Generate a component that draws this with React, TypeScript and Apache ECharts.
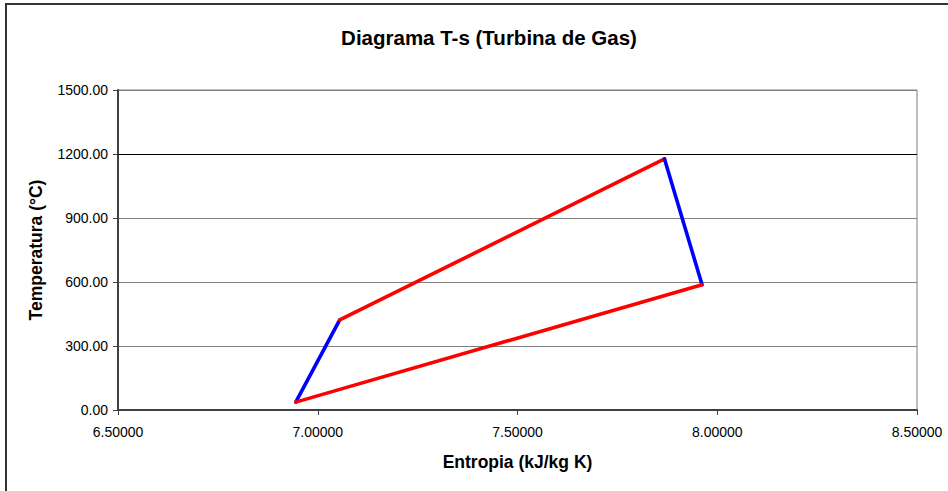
import React, { useEffect, useRef } from "react";
import * as echarts from "echarts";

// Cycle state points (Brayton cycle)
const entropy = [6.945, 7.055, 7.868, 7.962]; // kJ/kg K
const temperature = [37, 422, 1177, 587]; // °C
const segmentNames = ["Compresión", "Combustión", "Expansión", "Escape"];
const segmentColors = ["#0000FF", "#FF0000", "#0000FF", "#FF0000"];
const xTicks = [6.5, 7.0, 7.5, 8.0, 8.5];
const yTicks = [0, 300, 600, 900, 1200, 1500];

const FONT = "'Liberation Sans', Arial, sans-serif";

export default function App() {
  const ref = useRef<HTMLDivElement>(null);
  useEffect(() => {
    if (!ref.current) return;
    const chart = echarts.init(ref.current, undefined, { renderer: "svg" });
    const n = entropy.length;
    const series = segmentNames.map((name, i) => {
      const a = i;
      const b = (i + 1) % n;
      return {
        name,
        type: "line",
        data: [
          [entropy[a], temperature[a]],
          [entropy[b], temperature[b]],
        ],
        showSymbol: false,
        symbol: "none",
        lineStyle: { color: segmentColors[i], width: 3.6, cap: "round" },
        itemStyle: { color: segmentColors[i] },
        z: 3 + i,
        ...(i === 0
          ? {
              markLine: {
                silent: true,
                symbol: "none",
                label: { show: false },
                lineStyle: { color: "#000000", width: 1, type: "solid" },
                data: [{ yAxis: 1200 }],
                z: 1,
              },
            }
          : {}),
      };
    });
    chart.setOption({
      animation: false,
      backgroundColor: "#ffffff",
      textStyle: { fontFamily: FONT },
      title: {
        text: "Diagrama T-s (Turbina de Gas)",
        left: 484,
        textAlign: "center",
        top: 22,
        textStyle: { fontFamily: FONT, fontSize: 20.5, fontWeight: "bold", color: "#000" },
      },
      graphic: [
        {
          type: "rect",
          shape: { x: 6, y: 4, width: 980, height: 520 },
          style: { fill: "none", stroke: "#333333", lineWidth: 2 },
          silent: true,
          z: 100,
        },
      ],
      grid: {
        left: 118,
        right: 31,
        top: 90,
        bottom: 81,
        show: true,
        borderColor: "#808080",
        borderWidth: 1,
        backgroundColor: "transparent",
      },
      xAxis: {
        type: "value",
        min: xTicks[0],
        max: xTicks[xTicks.length - 1],
        interval: 0.5,
        name: "Entropia (kJ/kg K)",
        nameLocation: "middle",
        nameGap: 43,
        nameTextStyle: { fontFamily: FONT, fontSize: 17.5, fontWeight: "bold", color: "#000" },
        axisLine: { show: true, lineStyle: { color: "#404040", width: 2 } },
        axisTick: { show: true, length: 5, lineStyle: { color: "#404040" } },
        axisLabel: {
          margin: 15,
          fontFamily: FONT,
          fontSize: 14,
          color: "#000",
          formatter: (v: number) => v.toFixed(5),
        },
        splitLine: { show: false },
      },
      yAxis: {
        type: "value",
        min: yTicks[0],
        max: yTicks[yTicks.length - 1],
        interval: 300,
        name: "Temperatura (°C)",
        nameLocation: "middle",
        nameGap: 73,
        nameTextStyle: { fontFamily: FONT, fontSize: 17.5, fontWeight: "bold", color: "#000" },
        axisLine: { show: true, lineStyle: { color: "#404040", width: 2 } },
        axisTick: { show: true, length: 5, lineStyle: { color: "#404040" } },
        axisLabel: {
          margin: 10,
          fontFamily: FONT,
          fontSize: 14,
          color: "#000",
          formatter: (v: number) => v.toFixed(2),
        },
        splitLine: { show: true, lineStyle: { color: "#808080", width: 1 } },
      },
      series,
    });
    return () => chart.dispose();
  }, []);
  return (
    <div
      ref={ref}
      style={{ position: "fixed", left: 0, top: 0, width: 948, height: 491 }}
    />
  );
}
